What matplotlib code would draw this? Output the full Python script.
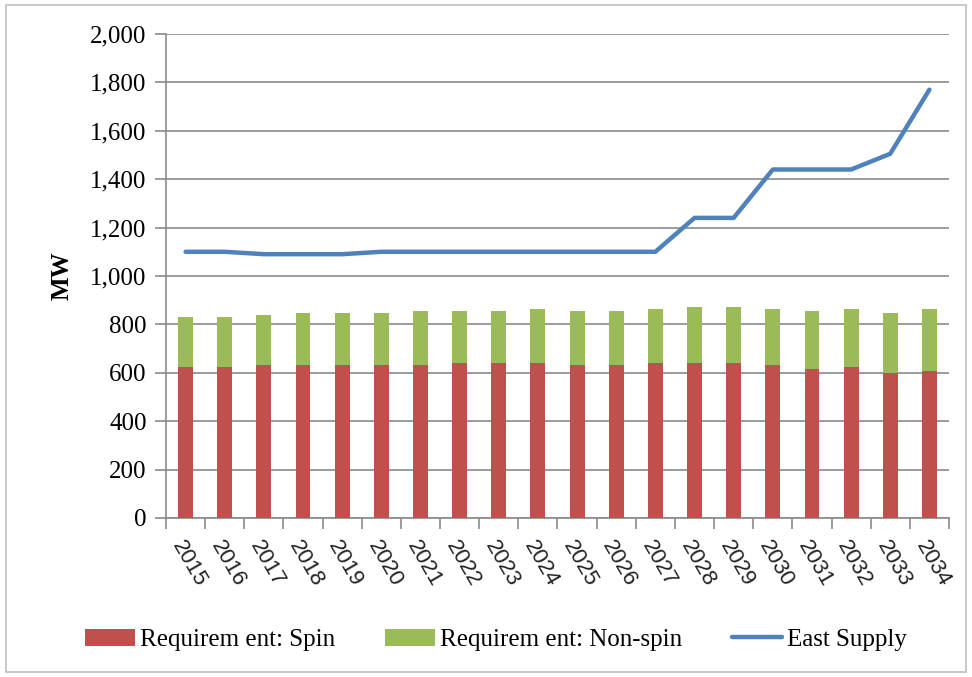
import numpy as np
import matplotlib
matplotlib.use("Agg")
import matplotlib.pyplot as plt
from matplotlib.patches import Rectangle
from matplotlib.ticker import FuncFormatter, MultipleLocator

# datos
anios = [str(a) for a in range(2015, 2035)]
spin = [623, 623, 631, 631, 631, 631, 631, 639, 639, 639,
        631, 631, 639, 639, 639, 631, 614, 623, 598, 606]
total = [829, 829, 838, 846, 846, 846, 854, 854, 854, 862,
         854, 854, 862, 871, 871, 862, 854, 862, 846, 862]
non_spin = [t - s for t, s in zip(total, spin)]
east_supply = [1100, 1100, 1090, 1090, 1090, 1100, 1100, 1100, 1100, 1100,
               1100, 1100, 1100, 1240, 1240, 1440, 1440, 1440, 1505, 1770]

rojo = '#C0504D'
verde = '#9BBB59'
azul = '#4F81BD'
serif = 'Liberation Serif'

fig = plt.figure(figsize=(9.72, 6.77), dpi=100)
ax = fig.add_axes([0.1708, 0.2349, 0.8055, 0.7149])

x = np.arange(len(anios))
b1 = ax.bar(x, spin, width=0.38, color=rojo, zorder=3)
b2 = ax.bar(x, non_spin, width=0.38, bottom=spin, color=verde, zorder=3)
l1, = ax.plot(x, east_supply, color=azul, lw=3.2, zorder=4,
              solid_capstyle='round')

ax.set_xlim(-0.5, len(anios) - 0.5)
ax.set_ylim(0, 2000)
ax.yaxis.set_major_locator(MultipleLocator(200))
ax.yaxis.set_major_formatter(FuncFormatter(lambda v, p: f'{int(v):,}'))
ax.grid(axis='y', color='#8a8a8a', lw=1.2, zorder=0)

ax.set_xticks(x)
ax.set_xticklabels(anios, rotation=-60, ha='left', va='top',
                   rotation_mode='anchor', family='Liberation Sans', fontsize=16,
                   color='#222222')
ax.tick_params(axis='x', length=0, pad=14)
# ticks entre categorias
ax.set_xticks(np.arange(-0.5, len(anios), 1), minor=True)
ax.tick_params(axis='x', which='minor', length=8, color='#8a8a8a', width=1.2)
ax.tick_params(axis='y', length=8, color='#8a8a8a', width=1.2, pad=6)
for lab in ax.get_yticklabels():
    lab.set_family(serif)
    lab.set_fontsize(18)

for lado in ['top', 'right']:
    ax.spines[lado].set_visible(False)
for lado in ['left', 'bottom']:
    ax.spines[lado].set_color('#8a8a8a')
    ax.spines[lado].set_linewidth(1.2)

ax.set_ylabel('MW', family=serif, fontsize=18, fontweight='bold', labelpad=12)

fig.legend([b1, b2, l1],
           ['Requirem ent: Spin', 'Requirem ent: Non-spin', 'East Supply'],
           loc='center', bbox_to_anchor=(0.51, 0.055), ncol=3, frameon=False,
           prop={'family': serif, 'size': 18}, handlelength=2.0,
           handletextpad=0.2, columnspacing=2.0)

fig.patches.append(Rectangle((0.006, 0.008), 0.988, 0.984, transform=fig.transFigure,
                             fill=False, edgecolor='#bfbfbf', lw=1.2))

fig.savefig('out.png', dpi=100)
